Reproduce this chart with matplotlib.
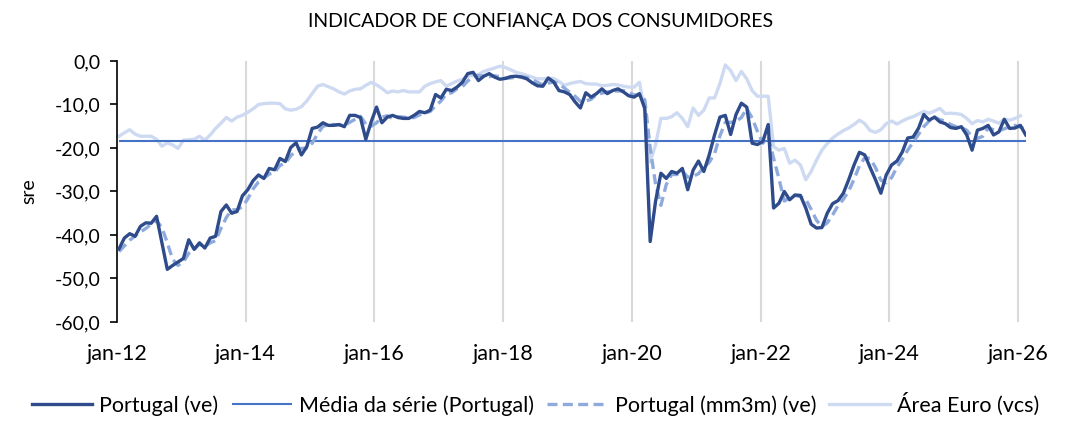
import numpy as np
import matplotlib
matplotlib.use('Agg')
import matplotlib.pyplot as plt

plt.rcParams['font.family'] = ['Lato', 'DejaVu Sans']

# Portugal (ve), jan-12 .. fev-26
portugal = [
    -43.2, -40.7, -39.7, -40.3, -38.0, -37.2, -37.3, -35.7, -41.8, -47.9, -47.0, -46.2,
    -45.4, -41.1, -43.3, -41.8, -43.0, -40.7, -40.3, -34.6, -33.1, -35.0, -34.6, -31.0,
    -29.6, -27.5, -26.2, -27.0, -24.7, -25.0, -22.4, -23.1, -19.9, -18.8, -21.6, -19.7,
    -15.5, -15.2, -14.2, -14.8, -14.8, -14.6, -15.1, -12.5, -12.5, -13.0, -18.0, -14.0,
    -10.6, -14.2, -12.9, -12.5, -13.0, -13.2, -13.2, -12.5, -11.6, -11.9, -11.3, -7.7,
    -8.5, -6.5, -6.8, -6.0, -4.9, -2.9, -2.6, -4.5, -3.5, -2.9, -3.7, -4.2,
    -4.0, -3.6, -3.5, -3.7, -4.1, -5.0, -5.7, -5.8, -3.9, -4.8, -6.8, -7.1,
    -7.7, -9.4, -10.8, -7.3, -8.3, -7.5, -6.4, -7.5, -6.8, -6.4, -7.1, -8.0,
    -8.3, -7.5, -10.9, -41.5, -32.3, -25.8, -27.0, -25.4, -25.8, -24.7, -29.6, -25.1,
    -23.0, -25.4, -21.6, -17.0, -12.9, -12.5, -16.9, -12.3, -9.7, -10.6, -18.9, -19.2,
    -18.5, -14.6, -33.8, -32.7, -30.0, -31.9, -30.8, -30.9, -33.8, -37.5, -38.4, -38.3,
    -35.0, -32.8, -32.1, -30.4, -27.3, -23.9, -21.0, -21.6, -24.5, -27.3, -30.4, -26.2,
    -23.9, -23.0, -20.9, -17.7, -17.5, -15.5, -12.3, -13.6, -12.9, -14.0, -14.4, -15.3,
    -15.5, -15.1, -17.0, -20.5, -15.9, -15.5, -14.8, -17.0, -16.3, -13.4, -15.5, -15.4,
    -14.8, -17.0,
]

# Portugal (mm3m) (ve)
portugal_mm3m = [
    -43.8, -42.5, -41.2, -40.2, -39.3, -38.5, -37.5, -36.7, -38.3, -41.8, -45.6, -47.0,
    -46.2, -44.2, -43.3, -42.1, -42.7, -41.8, -41.3, -38.5, -36.0, -34.2, -34.2, -33.5,
    -31.7, -29.4, -27.8, -26.9, -26.0, -25.6, -24.0, -23.5, -21.8, -20.6, -20.1, -20.0,
    -18.9, -16.8, -15.0, -14.7, -14.6, -14.7, -14.8, -14.1, -13.4, -12.7, -14.5, -15.0,
    -14.2, -12.9, -12.6, -13.2, -12.8, -12.9, -13.1, -13.0, -12.4, -12.0, -11.6, -10.3,
    -9.2, -7.6, -7.3, -6.4, -5.9, -4.6, -3.5, -3.3, -3.5, -3.6, -3.4, -3.6,
    -4.0, -3.9, -3.7, -3.6, -3.8, -4.3, -4.9, -5.5, -5.1, -4.8, -5.2, -6.2,
    -7.2, -8.1, -9.3, -9.2, -8.8, -7.7, -7.4, -7.1, -6.9, -6.9, -6.8, -7.2,
    -7.8, -7.9, -8.9, -20.0, -28.2, -33.2, -28.4, -26.1, -26.1, -25.3, -26.7, -26.5,
    -25.9, -24.5, -23.3, -21.3, -17.2, -14.1, -14.1, -13.9, -13.0, -10.9, -13.1, -16.2,
    -18.9, -17.4, -22.3, -27.0, -32.2, -31.5, -30.9, -31.2, -31.8, -34.1, -36.6, -38.1,
    -37.2, -35.4, -33.3, -31.8, -29.9, -27.2, -24.1, -22.2, -22.4, -24.5, -27.4, -28.0,
    -26.8, -24.4, -22.6, -20.5, -18.7, -16.9, -15.1, -13.8, -12.9, -13.5, -13.8, -14.6,
    -15.1, -15.3, -15.9, -17.5, -17.8, -17.3, -15.4, -15.8, -16.0, -15.6, -15.1, -14.8,
    -15.2, -15.7,
]

# Área Euro (vcs), jan-12 .. jan-26
area_euro = [
    -17.3, -16.5, -15.8, -16.8, -17.3, -17.3, -17.3, -18.0, -19.6, -18.8, -19.3, -20.1,
    -18.2, -18.1, -18.0, -17.3, -18.2, -17.0, -15.5, -14.3, -13.0, -13.8, -12.9, -12.5,
    -11.8, -11.0, -10.0, -9.8, -9.7, -9.7, -9.8, -11.0, -11.3, -11.1, -10.5, -9.2,
    -7.5, -5.8, -5.4, -5.9, -6.4, -7.1, -7.6, -6.9, -6.5, -6.4, -5.6, -4.9,
    -5.5, -6.3, -7.3, -6.9, -7.1, -6.8, -7.1, -7.1, -7.1, -5.8, -5.2, -4.8,
    -4.5, -5.8, -5.2, -4.6, -4.2, -3.5, -3.3, -3.1, -2.4, -2.0, -1.6, -1.2,
    -1.5, -2.0, -2.6, -2.9, -3.3, -3.7, -4.1, -4.1, -4.0, -4.0, -4.7, -5.6,
    -5.2, -4.9, -4.7, -5.2, -5.3, -5.3, -5.7, -5.6, -5.4, -5.5, -5.8, -6.0,
    -6.0, -4.9, -11.7, -23.2, -19.3, -13.2, -13.2, -12.8, -11.9, -13.2, -15.1, -10.8,
    -12.5, -11.3, -8.5, -8.5, -5.2, -0.9, -2.2, -4.5, -2.4, -4.1, -6.8, -8.1,
    -8.1, -8.1, -19.7, -20.5, -20.1, -23.5, -22.8, -23.9, -27.3, -25.4, -22.8, -20.5,
    -19.0, -17.7, -16.8, -16.0, -15.4, -14.6, -13.6, -14.4, -16.0, -16.4, -15.8, -14.4,
    -13.8, -14.5, -13.8, -13.2, -12.8, -12.2, -11.6, -12.0, -11.5, -10.9, -12.1, -12.0,
    -12.1, -12.3, -13.2, -14.4, -13.7, -14.0, -13.4, -13.8, -14.3, -13.4, -13.6, -13.2,
    -12.6,
]

media_serie = -18.4

tick_pos = [0, 24, 48, 72, 96, 120, 144, 168]
tick_labels = ['jan-12', 'jan-14', 'jan-16', 'jan-18', 'jan-20', 'jan-22', 'jan-24', 'jan-26']
y_ticks = [0, -10, -20, -30, -40, -50, -60]

c_dark = '#2E4B8B'
c_mean = '#4472C4'
c_dash = '#8FAADC'
c_light = '#CDDAF2'

fig = plt.figure(figsize=(10.82, 4.42), dpi=100)
ax = fig.add_axes([0.108, 0.2715, 0.840, 0.5905])

x_pt = np.arange(len(portugal))
x_ea = np.arange(len(area_euro))
x_mm = np.arange(len(portugal_mm3m))

ax.plot(x_ea, area_euro, color=c_light, lw=2.4, zorder=2, label='Área Euro (vcs)')
ax.hlines(media_serie, x_pt[0], x_pt[-1], color=c_mean, lw=1.5, zorder=3,
          label='Média da série (Portugal)')
ax.plot(x_mm, portugal_mm3m, color=c_dash, lw=2.4, ls=(0, (3, 1.6)), zorder=4,
        label='Portugal (mm3m) (ve)')
ax.plot(x_pt, portugal, color=c_dark, lw=2.4, zorder=5, label='Portugal (ve)')

# eixo de datas: o primeiro ponto fica um pouco à direita do eixo
ax.set_xlim(-0.4, len(portugal) - 1)
ax.set_ylim(-60, 0)
ax.set_yticks(y_ticks)
ax.set_yticklabels([('%.1f' % v).replace('.', ',') for v in y_ticks], fontsize=14)
ax.set_xticks([t - 0.4 for t in tick_pos])
ax.set_xticklabels(tick_labels, fontsize=15.5)
ax.tick_params(axis='x', length=0, pad=16)
ax.tick_params(axis='y', length=5, width=1.2, pad=7)

for t in tick_pos[1:]:
    ax.axvline(t - 0.4, color='#D9D9D9', lw=1.5, zorder=1)

for s in ['top', 'right', 'bottom']:
    ax.spines[s].set_visible(False)
ax.spines['left'].set_linewidth(1.2)

ax.set_ylabel('sre', fontsize=14, labelpad=12)
fig.suptitle('INDICADOR DE CONFIANÇA DOS CONSUMIDORES', fontsize=14, y=0.97)

h, l = ax.get_legend_handles_labels()
order = [3, 1, 2, 0]
fig.legend([h[i] for i in order], [l[i] for i in order], loc='center', ncol=4,
           bbox_to_anchor=(0.495, 0.085), frameon=False, fontsize=15.5,
           handlelength=2.8, columnspacing=0.6, handletextpad=0.35)

fig.savefig('out.png', dpi=100)
